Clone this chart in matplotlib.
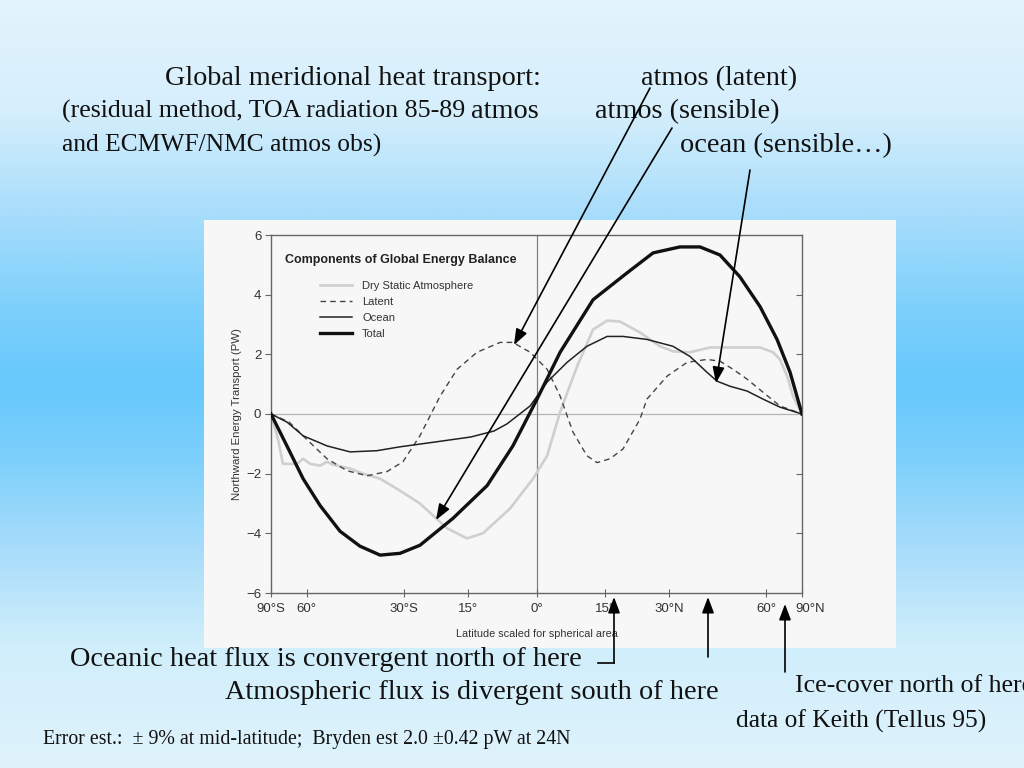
import numpy as np
import matplotlib
matplotlib.use("Agg")
import matplotlib.pyplot as plt
from matplotlib.patches import Rectangle, FancyArrowPatch
from matplotlib.colors import LinearSegmentedColormap
from matplotlib.transforms import ScaledTranslation

# ---------------- data (x = sin(latitude), y = PW) ----------------
total_x = [-1.0, -0.940, -0.879, -0.815, -0.740, -0.665, -0.589, -0.514, -0.439, -0.315,
           -0.186, -0.089, 0.002, 0.089, 0.213, 0.341, 0.439, 0.540, 0.616, 0.691,
           0.766, 0.842, 0.906, 0.955, 1.0]
total_y = [0.0, -1.07, -2.17, -3.07, -3.93, -4.43, -4.73, -4.67, -4.40, -3.50,
           -2.40, -1.07, 0.50, 2.07, 3.83, 4.73, 5.40, 5.60, 5.60, 5.33,
           4.60, 3.60, 2.50, 1.40, 0.0]

ocean_x = [-1.0, -0.940, -0.879, -0.789, -0.702, -0.601, -0.514, -0.375, -0.247, -0.160,
           -0.111, -0.024, 0.040, 0.115, 0.190, 0.266, 0.326, 0.416, 0.514, 0.578,
           0.642, 0.680, 0.729, 0.793, 0.853, 0.917, 1.0]
ocean_y = [0.0, -0.27, -0.73, -1.07, -1.27, -1.23, -1.10, -0.93, -0.77, -0.57,
           -0.33, 0.27, 1.07, 1.73, 2.27, 2.60, 2.60, 2.50, 2.27, 1.93,
           1.40, 1.10, 0.93, 0.77, 0.50, 0.23, 0.0]

latent_x = [-1.0, -0.932, -0.868, -0.789, -0.714, -0.638, -0.563, -0.503, -0.439, -0.363,
            -0.299, -0.224, -0.137, -0.089, -0.024, 0.040, 0.089, 0.137, 0.190, 0.228,
            0.277, 0.326, 0.390, 0.416, 0.492, 0.567, 0.642, 0.691, 0.740, 0.793,
            0.853, 0.917, 1.0]
latent_y = [0.0, -0.27, -0.83, -1.50, -1.90, -2.07, -1.93, -1.60, -0.73, 0.60,
            1.50, 2.07, 2.40, 2.40, 2.07, 1.50, 0.60, -0.60, -1.40, -1.63,
            -1.50, -1.17, -0.17, 0.50, 1.27, 1.73, 1.83, 1.77, 1.50, 1.17,
            0.73, 0.27, 0.0]

dry_x = [-1.0, -0.974, -0.955, -0.902, -0.879, -0.853, -0.815, -0.789, -0.766, -0.702,
         -0.653, -0.589, -0.514, -0.439, -0.337, -0.262, -0.202, -0.100, -0.013, 0.040,
         0.089, 0.153, 0.213, 0.266, 0.314, 0.390, 0.465, 0.514, 0.578, 0.653,
         0.729, 0.842, 0.891, 0.917, 0.944, 0.966, 1.0]
dry_y = [0.0, -0.83, -1.67, -1.67, -1.50, -1.67, -1.73, -1.60, -1.70, -1.83,
         -2.00, -2.17, -2.57, -3.00, -3.83, -4.17, -4.00, -3.17, -2.17, -1.40,
         0.07, 1.60, 2.83, 3.13, 3.10, 2.73, 2.27, 2.10, 2.07, 2.23,
         2.23, 2.23, 2.07, 1.83, 1.27, 0.60, 0.0]

xtick_pos = [-1.0, -0.866, -0.5, -0.259, 0.0, 0.259, 0.5, 0.866, 1.0]
xtick_lab = ["90°S", "60°", "30°S", "15°", "0°", "15°", "30°N", "60°", "90°N"]
ytick_pos = [-6, -4, -2, 0, 2, 4, 6]
ytick_lab = ["\u22126", "\u22124", "\u22122", "0", "2", "4", "6"]

legend_labels = ["Dry Static Atmosphere", "Latent", "Ocean", "Total"]

W, H = 1024, 768


def fp(x, y):
    """figure pixel (top-left origin) -> figure fraction"""
    return (x / W, 1 - y / H)


fig = plt.figure(figsize=(10.24, 7.68), dpi=100)

# ---------------- background gradient ----------------
bg = fig.add_axes([0, 0, 1, 1], zorder=-10)
stops = [(0.00, "#e3f4fd"), (0.14, "#d6effc"), (0.27, "#aadefb"), (0.40, "#7dd0fb"),
         (0.50, "#66c8fc"), (0.60, "#7dd0fb"), (0.72, "#a9ddfa"), (0.84, "#d0eefb"),
         (1.00, "#dff3fc")]
cmap = LinearSegmentedColormap.from_list("bg", stops)
grad = np.linspace(0, 1, 512).reshape(-1, 1)
bg.imshow(grad, aspect="auto", cmap=cmap, extent=[0, 1, 0, 1], origin="upper")
bg.set_axis_off()

# white panel
x0, y0 = fp(204, 648)
x1, y1 = fp(896, 220)
fig.add_artist(Rectangle((x0, y0), x1 - x0, y1 - y0, transform=fig.transFigure,
                         facecolor="#f7f7f7", edgecolor="none", zorder=-5))

# ---------------- chart axes ----------------
ax_l, ax_b = fp(271, 593)
ax_r, ax_t = fp(802, 235)
ax = fig.add_axes([ax_l, ax_b, ax_r - ax_l, ax_t - ax_b])
ax.set_facecolor("none")
ax.set_xlim(-1, 1)
ax.set_ylim(-6, 6)

ax.axhline(0, color="#b5b5b5", lw=0.9, zorder=1)
ax.axvline(0, color="#808080", lw=0.9, zorder=1)

ax.plot(dry_x, dry_y, color="#cfcfcf", lw=1.9, zorder=2, label=legend_labels[0])
ax.plot(latent_x, latent_y, color="#444444", lw=1.0, dashes=(4, 3), zorder=3,
        label=legend_labels[1])
ax.plot(ocean_x, ocean_y, color="#222222", lw=1.1, zorder=3, label=legend_labels[2])
ax.plot(total_x, total_y, color="#111111", lw=2.4, zorder=4, label=legend_labels[3])

for s in ax.spines.values():
    s.set_color("#666666")
    s.set_linewidth(1.0)

ax.set_yticks(ytick_pos)
ax.set_yticklabels(ytick_lab)
ax.set_xticks(xtick_pos)
ax.set_xticklabels(xtick_lab)
ax.tick_params(axis="y", direction="out", length=4, color="#666666", labelsize=9.5,
               labelcolor="#333333", pad=3)
ax.tick_params(axis="x", direction="inout", length=6, color="#666666", labelsize=9.5,
               labelcolor="#333333", pad=4)
for lab in ax.get_xticklabels():
    lab.set_fontfamily("Liberation Sans")
for lab in ax.get_yticklabels():
    lab.set_fontfamily("Liberation Sans")
last = ax.get_xticklabels()[-1]
last.set_transform(last.get_transform() + ScaledTranslation(8 / 100, 0, fig.dpi_scale_trans))

# right-side inward ticks
axr = ax.secondary_yaxis("right")
axr.set_yticks([-4, -2, 2, 4])
axr.tick_params(direction="in", length=4, color="#666666", labelright=False)
axr.spines["right"].set_visible(False)

ax.set_ylabel("Northward Energy Transport (PW)", fontsize=8.2, color="#333333",
              family="Liberation Sans", labelpad=3)
ax.set_xlabel("Latitude scaled for spherical area", fontsize=7.8, color="#333333",
              family="Liberation Sans", labelpad=10)

tx, ty = fp(285, 263)
fig.text(tx, ty, "Components of Global Energy Balance", fontsize=9.0, fontweight="bold",
         family="Liberation Sans", color="#222222", ha="left", va="baseline")

lx, ly = fp(320, 281)
leg = ax.legend(loc="upper left", bbox_to_anchor=(lx, ly), bbox_transform=fig.transFigure,
                frameon=False, fontsize=8.0, handlelength=2.9, handletextpad=0.9,
                labelspacing=0.55, borderpad=0, borderaxespad=0)
for t in leg.get_texts():
    t.set_color("#333333")
    t.set_fontfamily("Liberation Sans")

# ---------------- slide texts ----------------
serif = "Liberation Serif"


def txt(x, y, s, size, **kw):
    fx, fy = fp(x, y)
    fig.text(fx, fy, s, fontsize=size, family=serif, color="#111111",
             ha=kw.pop("ha", "left"), va="baseline", **kw)


txt(165, 85, "Global meridional heat transport:", 20.3)
txt(641, 85, "atmos (latent)", 20.3)
txt(62, 118, "(residual method, TOA radiation 85-89", 18.6)
txt(471, 118, "atmos", 20.4)
txt(595, 118, "atmos (sensible)", 20.3)
txt(62, 152, "and ECMWF/NMC atmos obs)", 18.4)
txt(680, 152, "ocean (sensible\u2026)", 20.4)

txt(70, 666, "Oceanic heat flux is convergent north of here", 20.3)
txt(225, 699, "Atmospheric flux is divergent south of here", 20.3)
txt(795, 692, "Ice-cover north of here", 18.6)
txt(736, 728, "data of Keith (Tellus 95)", 18.35)
txt(43, 744, "Error est.:  \u00b1 9% at mid-latitude;  Bryden est 2.0 \u00b10.42 pW at 24N", 14.3)

# ---------------- arrows ----------------
arrow_kw = dict(arrowstyle="-|>,head_length=0.8,head_width=0.3", color="black", lw=1.2,
                shrinkA=0, shrinkB=0)


def fig_arrow(tail, head):
    a = FancyArrowPatch(fp(*tail), fp(*head), transform=fig.transFigure,
                        mutation_scale=12, zorder=20, **arrow_kw)
    fig.add_artist(a)


# from labels to curves
fig_arrow((650, 88), (514, 345))
fig_arrow((672, 128), (436, 520))
fig_arrow((750, 170), (716, 383))

# bottom arrows pointing at latitudes
fig_arrow((614, 663), (614, 597))
fig_arrow((708, 657), (708, 597))
fig_arrow((785, 672), (785, 604))
bx0, by0 = fp(598, 663)
bx1, by1 = fp(614, 663)
fig.add_artist(plt.Line2D([bx0, bx1], [by0, by1], transform=fig.transFigure,
                          color="black", lw=1.2, zorder=20))

fig.savefig("out.png", dpi=100)
